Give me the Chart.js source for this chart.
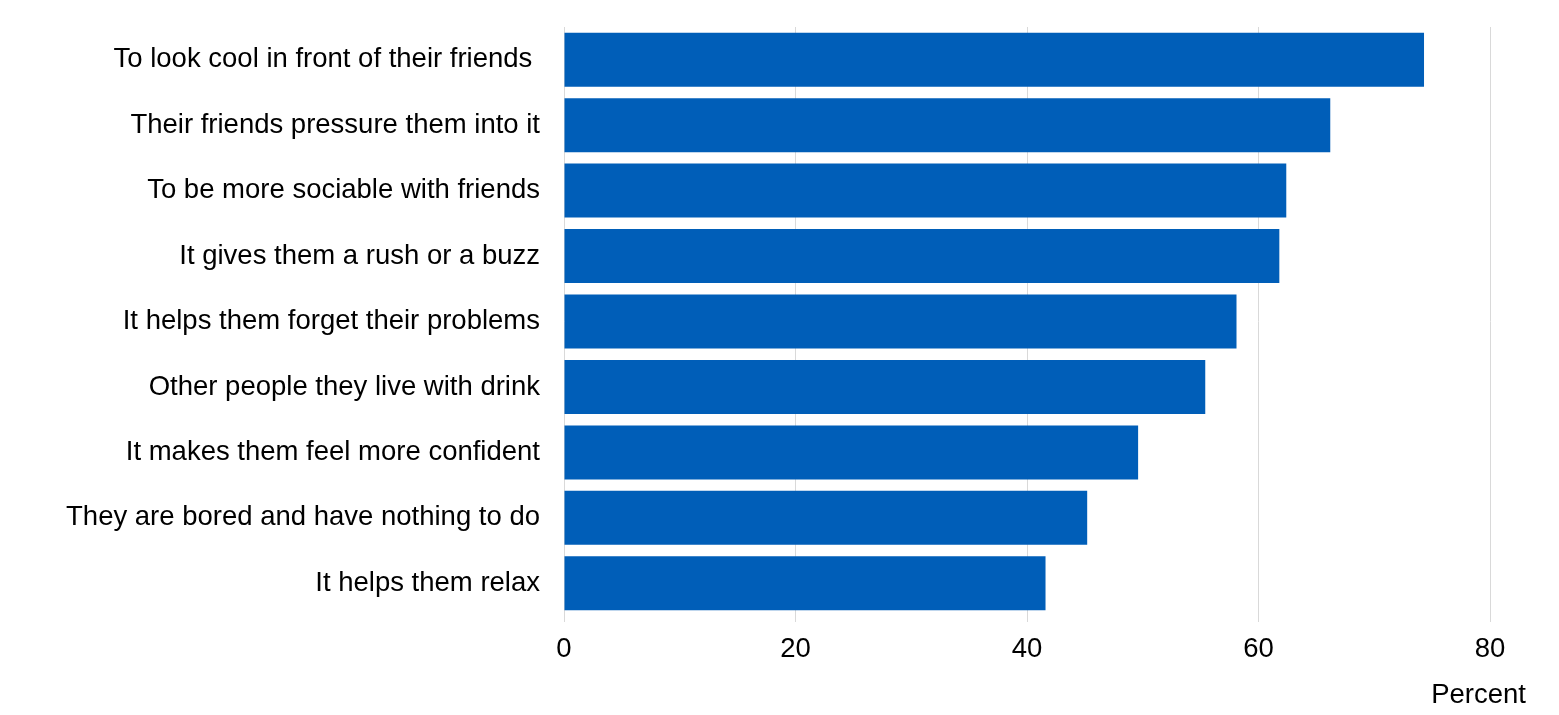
<!DOCTYPE html>
<html>
<head>
<meta charset="utf-8">
<script src="https://cdn.jsdelivr.net/npm/chart.js@4"></script>
<style>
  html, body { margin: 0; padding: 0; background: #fff; }
  #wrap { width: 1559px; height: 715px; }
</style>
</head>
<body>
<div id="wrap"><canvas id="reasonsChart"></canvas></div>
<script>
const categories = [
    'To look cool in front of their friends ',
    'Their friends pressure them into it',
    'To be more sociable with friends',
    'It gives them a rush or a buzz',
    'It helps them forget their problems',
    'Other people they live with drink',
    'It makes them feel more confident',
    'They are bored and have nothing to do',
    'It helps them relax'
];
const percentValues = [74.3, 66.2, 62.4, 61.8, 58.1, 55.4, 49.6, 45.2, 41.6];
const xTicks = [0, 20, 40, 60, 80];

const FONT = '"Liberation Sans", Arial, sans-serif';

// "Percent" sits to the right of the plot, below the tick labels
const percentLabel = {
    id: 'percentLabel',
    afterDraw(chart) {
        const ctx = chart.ctx;
        ctx.save();
        ctx.font = '27.5px ' + FONT;
        ctx.fillStyle = '#000';
        ctx.textAlign = 'right';
        ctx.textBaseline = 'middle';
        ctx.fillText('Percent', chart.chartArea.right + 36, 695);
        ctx.restore();
    }
};

const ctx = document.getElementById('reasonsChart').getContext('2d');
new Chart(ctx, {
    type: 'bar',
    data: {
        labels: categories,
        datasets: [{
            data: percentValues,
            backgroundColor: '#005EB8',
            borderWidth: 0,
            categoryPercentage: 1,
            barPercentage: 0.825
        }]
    },
    options: {
        indexAxis: 'y',
        responsive: true,
        maintainAspectRatio: false,
        animation: false,
        layout: { padding: { top: 27, right: 69, bottom: 38, left: 0 } },
        plugins: { legend: { display: false }, tooltip: { enabled: false } },
        scales: {
            x: {
                min: 0,
                max: 80,
                afterBuildTicks: (scale) => { scale.ticks = xTicks.map(v => ({ value: v })); },
                grid: { color: '#d9d9d9', tickLength: 6 },
                border: { display: false },
                ticks: {
                    color: '#000',
                    padding: 11,
                    font: { family: FONT, size: 27.5 }
                }
            },
            y: {
                grid: { display: false, drawTicks: false },
                border: { display: false },
                afterFit: (scale) => {
                    scale.width = 564;
                    scale.paddingTop = 0;
                    scale.paddingBottom = 0;
                },
                ticks: {
                    color: '#000',
                    padding: 24,
                    font: { family: FONT, size: 27.5 }
                }
            }
        }
    },
    plugins: [percentLabel]
});
</script>
</body>
</html>
